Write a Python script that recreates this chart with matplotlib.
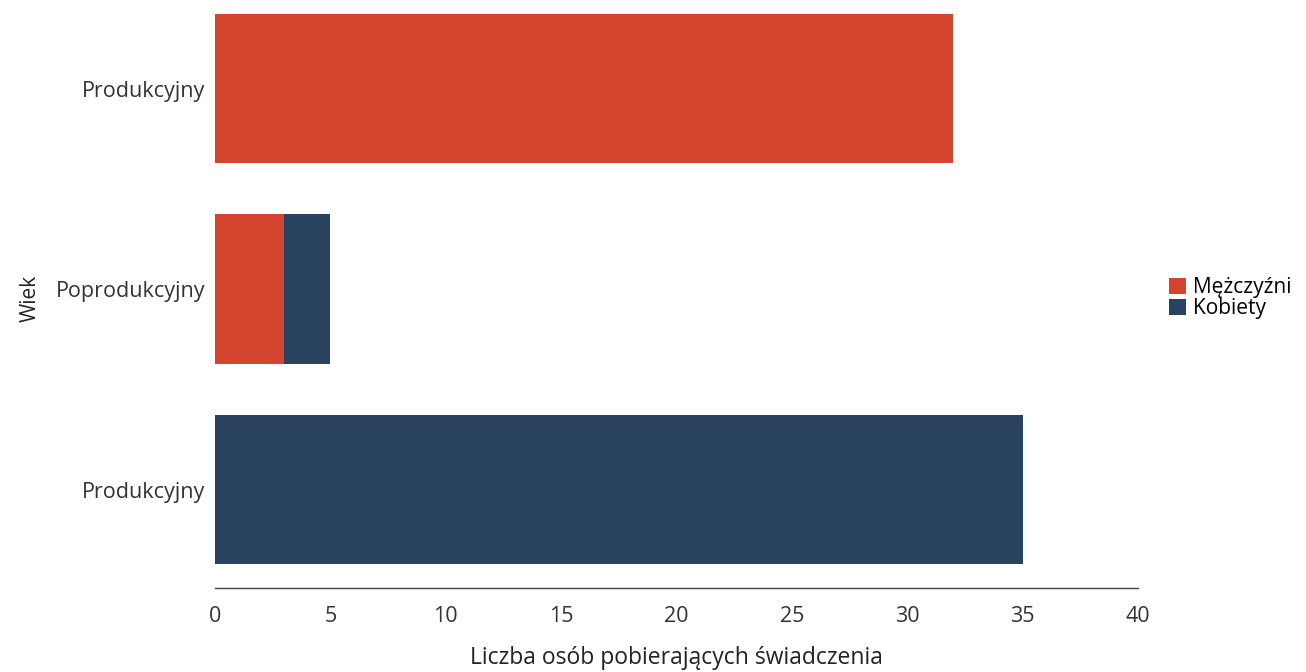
import numpy as np
import matplotlib.pyplot as plt

plt.rcParams['font.family'] = ['Open Sans', 'DejaVu Sans']

categories = ["Produkcyjny", "Poprodukcyjny", "Produkcyjny"]  # top to bottom
men = [32, 3, 0]
women = [0, 2, 35]
series_names = ["Mężczyźni", "Kobiety"]
xticks = [0, 5, 10, 15, 20, 25, 30, 35, 40]

red = "#d4442e"
blue = "#29425f"

fig = plt.figure(figsize=(13.06, 6.72), dpi=100)
ax = fig.add_axes([0.1646, 0.125, 0.7067, 0.8626])

y = np.arange(len(categories))[::-1]
ax.barh(y, men, height=0.745, color=red, label=series_names[0])
ax.barh(y, women, left=men, height=0.745, color=blue, label=series_names[1])

ax.set_xlim(0, 40)
ax.set_ylim(-0.49, 2.4)
ax.set_xticks(xticks)
ax.set_yticks(y)
ax.set_yticklabels(categories)
ax.tick_params(axis='both', length=0, labelsize=15.5, colors="#333333")
ax.tick_params(axis='x', pad=13)
ax.tick_params(axis='y', pad=7)

for s in ["top", "right", "left"]:
    ax.spines[s].set_visible(False)
ax.spines["bottom"].set_color("#444444")
ax.spines["bottom"].set_linewidth(1)

ax.set_xlabel("Liczba osób pobierających świadczenia", fontsize=16.5, color="#222222", labelpad=14)
ax.set_ylabel("Wiek", fontsize=15, color="#222222", labelpad=11)

ax.legend(loc="center left", bbox_to_anchor=(1.022, 0.5), frameon=False, fontsize=15,
          handlelength=0.85, handleheight=0.85, handletextpad=0.3, labelspacing=0.0,
          borderpad=0)

fig.savefig("out.png", dpi=100)
